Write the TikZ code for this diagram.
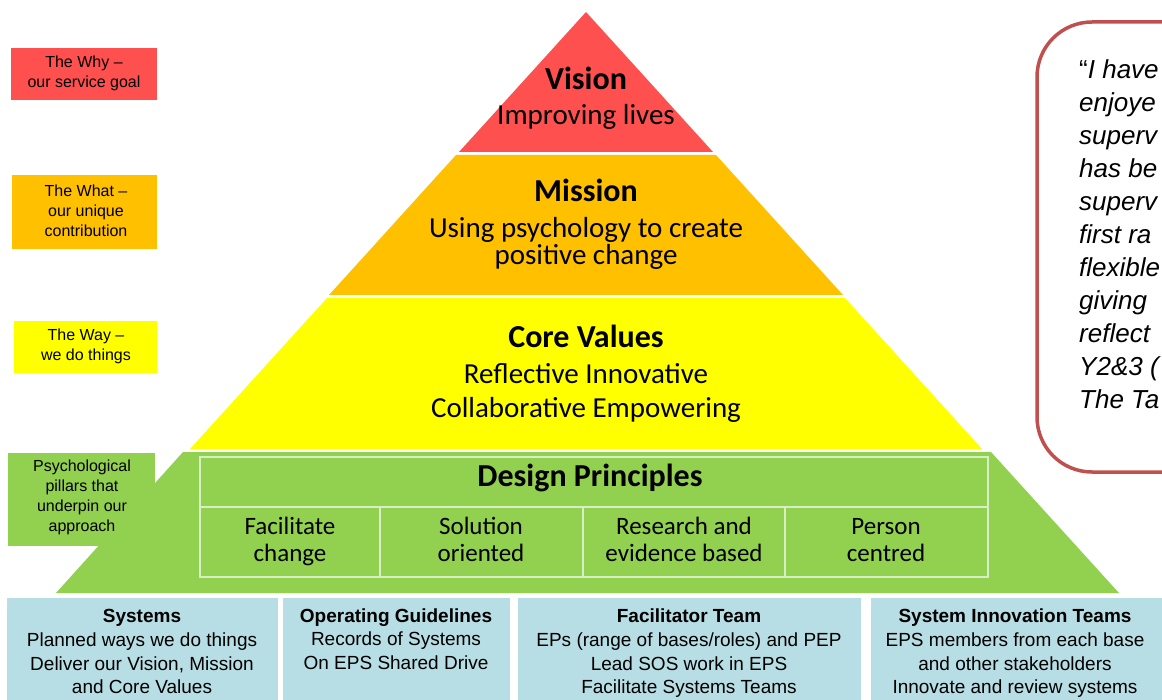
\documentclass[tikz,border=0pt]{standalone}
\usepackage{fontspec}
\setmainfont{Carlito}
\newfontfamily\arialfont{Liberation Sans}
\definecolor{visionred}{RGB}{255,80,80}
\definecolor{missionorange}{RGB}{255,192,0}
\definecolor{valueyellow}{RGB}{255,255,0}
\definecolor{pillargreen}{RGB}{146,208,80}
\definecolor{tableline}{RGB}{216,238,196}
\definecolor{systemblue}{RGB}{183,222,228}
\definecolor{quotered}{RGB}{192,80,77}
\tikzset{
  layertitle/.style={font=\fontsize{32}{34}\selectfont\bfseries,inner sep=0pt},
  layertext/.style={font=\fontsize{29}{27}\selectfont,align=center,inner sep=0pt},
  cell/.style={font=\fontsize{25}{27}\selectfont,align=center,inner sep=0pt},
  tag/.style={font=\arialfont\fontsize{16}{20}\selectfont,align=center,inner sep=0pt},
  sysbox/.style={font=\arialfont\fontsize{19}{23.7}\selectfont,align=center,inner sep=0pt},
  quoteline/.style={font=\arialfont\itshape\fontsize{26}{33}\selectfont,anchor=base west,inner sep=0pt}
}
\begin{document}
\begin{tikzpicture}[x=1pt,y=-1pt]
\useasboundingbox (0,0) rectangle (1162,700);
% pyramid
\fill[visionred] (586,12) -- (713,152) -- (459,152) -- cycle;
\fill[missionorange] (456,155) -- (716,155) -- (843,295) -- (329,295) -- cycle;
\fill[valueyellow] (327,298) -- (845,298) -- (982,449) -- (190,449) -- cycle;
\fill[pillargreen] (183,452) -- (991,452) -- (1119,593) -- (56,593) -- cycle;
\node[layertitle] (vision) at (586,78) {Vision};
\node[layertext] (lives) at (586,117) {Improving lives};
\node[layertitle] (mission) at (586,190) {Mission};
\node[layertext] (change) at (586,243) {Using psychology to create\\positive change};
\node[layertitle] (values) at (586,336) {Core Values};
\node[layertext] (reflective) at (586,374) {Reflective Innovative};
\node[layertext] (collab) at (586,410) {Collaborative Empowering};
% design principles
\draw[tableline,line width=2.5pt] (200,457) rectangle (988,577) (200,507) -- (988,507);
\foreach \x in {380,583,785} \draw[tableline,line width=2.5pt] (\x,507) -- (\x,577);
\node[layertitle] (design) at (590,478) {Design Principles};
\foreach \n/\x/\t in {facilitate/290/{Facilitate\strut\\change\strut},solution/481/{Solution\strut\\oriented\strut},research/684/{Research and\strut\\evidence based\strut},person/886/{Person\strut\\centred\strut}}
  \node[cell,name=\n] at (\x,543) {\t};
% left tags
\fill[visionred] (11,48) rectangle (157,100);
\fill[missionorange] (12,175) rectangle (157,249);
\fill[valueyellow] (14,321) rectangle (157,373);
\fill[pillargreen] (8,453) rectangle (155,546);
\node[tag] (why) at (84,73) {The Why –\\our service goal};
\node[tag] (what) at (86,211) {The What –\\our unique\\contribution};
\node[tag] (way) at (86,346) {The Way –\\we do things};
\node[tag] (pillars) at (82,497) {Psychological\\pillars that\\underpin our\\approach};
% bottom boxes
\foreach \a/\b in {7/278,283/510,518/861,871/1170} \fill[systemblue] (\a,598) rectangle (\b,710);
\node[sysbox] (systems) at (142,653.5) {\textbf{Systems}\strut\\Planned ways we do things\strut\\Deliver our Vision, Mission\strut\\and Core Values\strut};
\node[sysbox] (guidelines) at (396,641) {\textbf{Operating Guidelines}\strut\\Records of Systems\strut\\On EPS Shared Drive\strut};
\node[sysbox] (facilitator) at (689,653.5) {\textbf{Facilitator Team}\strut\\EPs (range of bases/roles) and PEP\strut\\Lead SOS work in EPS\strut\\Facilitate Systems Teams\strut};
\node[sysbox] (innovation) at (1015,653.5) {\textbf{System Innovation Teams}\strut\\EPS members from each base\strut\\and other stakeholders\strut\\Innovate and review systems\strut};
% quote
\draw[quotered,line width=3.5pt,rounded corners=55pt] (1037,22) rectangle (1230,472);
\foreach \t [count=\i from 0] in {{\upshape“}I have,enjoye,superv,has be,superv,first ra,flexible,giving,reflect,Y2\&3 (,The Ta}
  \node[quoteline,name=q\i] at (1079,{79+33*\i}) {\t};
\end{tikzpicture}
\end{document}
